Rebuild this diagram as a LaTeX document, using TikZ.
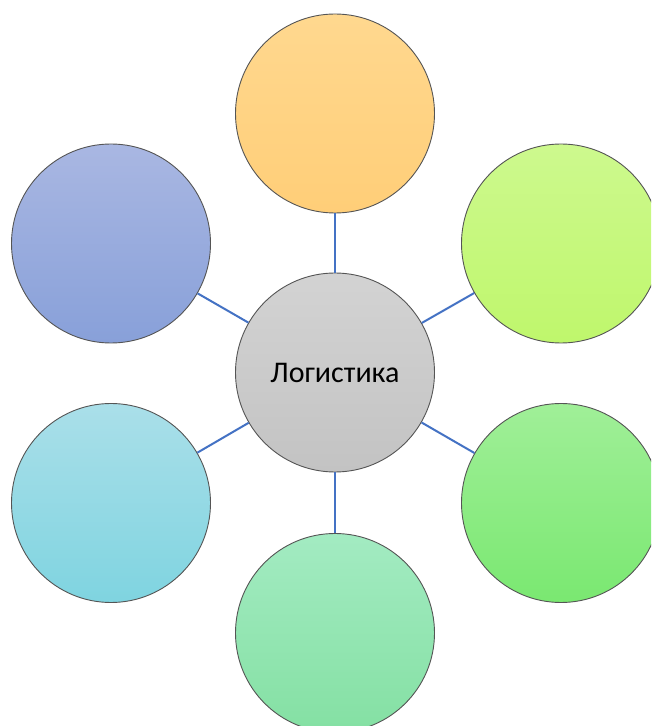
\documentclass[tikz,border=0pt]{standalone}
\usepackage{fontspec}
\setmainfont{Carlito}
\definecolor{linkblue}{HTML}{4472C4}
\definecolor{rimgray}{HTML}{555555}
\definecolor{orT}{HTML}{FFD88F}\definecolor{orB}{HTML}{FFCE78}
\definecolor{ygT}{HTML}{CDF98E}\definecolor{ygB}{HTML}{BFF76C}
\definecolor{blT}{HTML}{A9B7E2}\definecolor{blB}{HTML}{88A0D9}
\definecolor{lgT}{HTML}{A0EF98}\definecolor{lgB}{HTML}{7AE871}
\definecolor{mgT}{HTML}{A3EBC2}\definecolor{mgB}{HTML}{84E0A3}
\definecolor{cyT}{HTML}{AADFE9}\definecolor{cyB}{HTML}{7FD4E0}
\definecolor{grT}{HTML}{D3D3D3}\definecolor{grB}{HTML}{C3C3C3}
\begin{document}
\begin{tikzpicture}[x=1pt,y=1pt,
  bubble/.style={circle,draw=rimgray,line width=0.9pt,minimum size=199pt,inner sep=0pt},
  link/.style={draw=linkblue,line width=2pt}]
\useasboundingbox (0,0) rectangle (651,726);
\clip (0,0) rectangle (651,726);
\fill[white] (0,0) rectangle (651,726);
\node[bubble,top color=grT,bottom color=grB,font=\fontsize{30}{34}\selectfont] (hub) at (335,353.5) {Логистика};
\node[bubble,top color=orT,bottom color=orB] (n) at (335,612.5) {};
\node[bubble,top color=ygT,bottom color=ygB] (ne) at (561,482.5) {};
\node[bubble,top color=lgT,bottom color=lgB] (se) at (561,223) {};
\node[bubble,top color=mgT,bottom color=mgB] (s) at (335,93) {};
\node[bubble,top color=cyT,bottom color=cyB] (sw) at (111,223) {};
\node[bubble,top color=blT,bottom color=blB] (nw) at (111,482.5) {};
\foreach \t in {n,ne,se,s,sw,nw} \draw[link] (hub) -- (\t);
\end{tikzpicture}
\end{document}
